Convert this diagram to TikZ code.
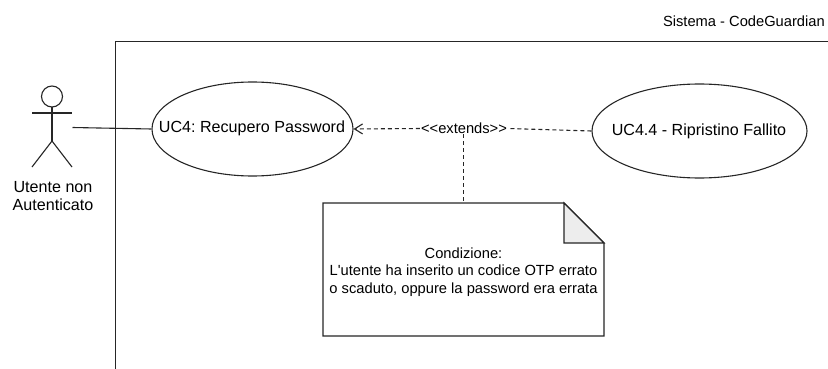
\documentclass[tikz,border=0pt]{standalone}
\usepackage{fontspec}
\newfontfamily\plainfont{Liberation Sans}
\usetikzlibrary{arrows.meta,shapes.geometric}
\tikzset{
  x=1pt,y=-1pt,
  every node/.style={align=center,inner sep=0pt},
  big/.style={font=\plainfont\frenchspacing\fontsize{16.1}{18}\selectfont},
  small/.style={font=\plainfont\frenchspacing\fontsize{14.7}{17.8}\selectfont},
  line/.style={draw=black!85,line width=1.1pt},
  usecase/.style={ellipse,line,minimum width=201pt,minimum height=94pt},
  dashline/.style={line,dash pattern=on 4pt off 3pt},
}
\begin{document}
\begin{tikzpicture}
\useasboundingbox (0,0) rectangle (828,369);
% system frame
\coordinate (fa) at (115.5,369);
\coordinate (fb) at (115.5,41.5);
\coordinate (fc) at (828,41.5);
\draw[line] (fa) -- (fb) -- (fc);
\node[anchor=east,small] (sys) at (825,21) {Sistema - CodeGuardian};
% actor
\draw[line] (52,96.5) circle (10.5);
\draw[line] (52,107) -- (52,141);
\draw[line] (32,113) -- (72,113);
\draw[line] (32,167) -- (52,141) -- (72,167);
\coordinate (act) at (72.5,127.5);
\node[big] (actl) at (53,196) {Utente non\\Autenticato};
% use cases
\node[usecase] (uc4) at (252.5,129) {};
\node[big] (uc4l) at (252,128) {UC4: Recupero Password};
\node[usecase,minimum width=215pt] (uc44) at (699.5,131) {};
\node[big] (uc44l) at (699,131) {UC4.4 - Ripristino Fallito};
\draw[line] (act) -- (uc4.west);
% note
\coordinate (n1) at (323,203);
\coordinate (n2) at (564,203);
\coordinate (n3) at (604,243);
\coordinate (n4) at (604,336);
\coordinate (n5) at (323,336);
\coordinate (n6) at (564,243);
\draw[line,fill=white] (n1) -- (n2) -- (n3) -- (n4) -- (n5) -- cycle;
\draw[line,fill=black!7] (n2) -- (n3) -- (n6) -- cycle;
\node[small] (note) at (463.5,272) {Condizione:\\L'utente ha inserito un codice OTP errato\\o scaduto, oppure la password era errata};
% extends
\node[fill=white,inner xsep=1pt,small] (ext) at (464,128.5) {<<extends>>};
\draw[dashline,-{Straight Barb[length=8pt,width=10pt]}] (ext.west) -- (uc4.east);
\draw[dashline] (uc44.west) -- (ext.east);
\coordinate (noteTop) at (463.5,203);
\draw[dashline] (ext.south -| noteTop) -- (noteTop);
\end{tikzpicture}
\end{document}
